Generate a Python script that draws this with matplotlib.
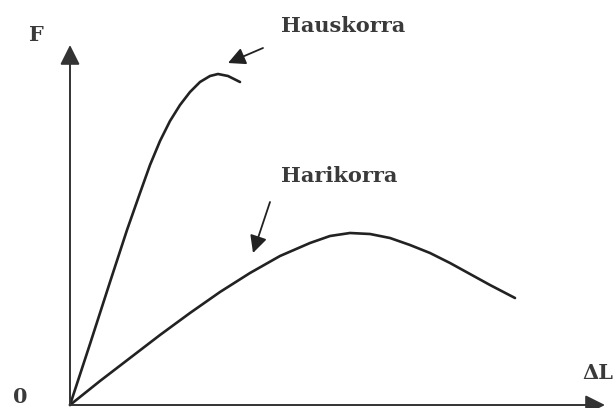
import matplotlib.pyplot as plt

# hard (brittle) material: elongation vs force
hard_dl = [0, 20, 40, 57, 70, 80, 90, 100, 110, 120, 130, 140, 148, 158, 170]
hard_f = [0, 61, 123, 175, 212, 240, 264, 284, 300, 313, 323, 329, 331, 329, 323]

# soft (ductile) material
soft_dl = [0, 30, 60, 90, 120, 150, 180, 210, 240, 260, 280, 300, 320, 340, 360, 380, 400, 420, 445]
soft_f = [0, 24, 47, 70, 92, 113, 132, 149, 162, 169, 172, 171, 167, 160, 152, 142, 131, 120, 107]

ink = '#222222'

fig = plt.figure(figsize=(6.14, 4.08), dpi=100)
ax = fig.add_axes([0, 0, 1, 1])
ax.set_xlim(-70, 544)
ax.set_ylim(-3, 405)
ax.axis('off')

# axes with arrow heads
arrow = dict(arrowstyle='-|>', color='#333333', lw=1.4, mutation_scale=30, shrinkA=0, shrinkB=0)
ax.annotate('', xy=(0, 360), xytext=(0, 0), arrowprops=arrow)
ax.annotate('', xy=(535, 0), xytext=(0, 0), arrowprops=arrow)

ax.plot(hard_dl, hard_f, color=ink, lw=1.9, solid_capstyle='round')
ax.plot(soft_dl, soft_f, color=ink, lw=1.9, solid_capstyle='round')

txt = dict(family='DejaVu Serif', fontsize=15, fontweight='bold', color='#3a3a3a',
           ha='center', va='center')
ax.text(-34, 370, 'F', **txt)
ax.text(-50, 8, '0', **txt)
ax.text(528, 32, 'ΔL', **txt)
ax.text(273, 379, 'Hauskorra', **txt)
ax.text(269, 229, 'Harikorra', **txt)

pointer = dict(arrowstyle='-|>', color=ink, lw=1.3, mutation_scale=26, shrinkA=0, shrinkB=0)
ax.annotate('', xy=(158, 342), xytext=(193, 357), arrowprops=pointer)
ax.annotate('', xy=(183, 152), xytext=(200, 203), arrowprops=pointer)

fig.savefig('out.png', dpi=100)
